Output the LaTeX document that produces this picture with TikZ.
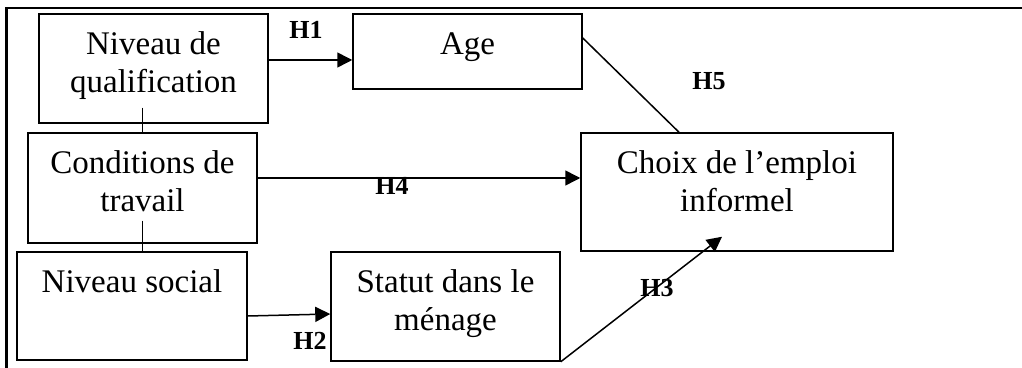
\documentclass[tikz,border=0pt]{standalone}
\usepackage{fontspec}
\setmainfont{Liberation Serif}
\usepackage{tikz}
\usetikzlibrary{positioning,arrows.meta,calc}
\tikzstyle{box} = [draw, inner sep=0pt, line width=0.75pt, font=\fontsize{16.5}{19}\selectfont]
\tikzstyle{link} = [line width=0.75pt, ->, >={Triangle[length=7.5pt, width=7.5pt]}]
\tikzstyle{hyp} = [inner sep=0pt, font=\fontsize{13}{15}\selectfont\bfseries]
\newcommand{\cellbox}[3]{\parbox[c][#2][t]{#1}{\centering\rule{0pt}{20.5pt}#3}}

\begin{document}
\begin{tikzpicture}[x=0.5pt, y=-0.5pt]
            \useasboundingbox (0,0) rectangle (1022,368);
            % frame
            \draw[line width=1.3pt] (5,8) -- (1022,8);
            \draw[line width=1.3pt] (6.5,8) -- (6.5,368);

            \node[box] (qual) at (153.5,68.5) {\cellbox{114.5pt}{54.5pt}{Niveau de\\qualification}};
            \node[box] (cond) at (142.5,188) {\cellbox{114.5pt}{55pt}{Conditions de\\travail}};
            \node[box] (social) at (132,306) {\cellbox{115pt}{54pt}{Niveau social}};
            \node[box] (statut) at (445.5,306.5) {\cellbox{114.5pt}{54.5pt}{Statut dans le\\ménage}};
            \node[box] (age) at (467.5,51.5) {\cellbox{114.5pt}{37.5pt}{Age}};
            \node[box] (choix) at (737,192) {\cellbox{156pt}{59pt}{Choix de l’emploi\\informel}};

            \draw[line width=0.75pt] ([yshift=8pt]qual.south -| cond.north) -- (cond.north);
            \draw[line width=0.75pt] ([yshift=11.5pt]cond.south) -- (cond.south |- social.north);

            \draw[link] ([yshift=4.25pt]qual.east) -- ([yshift=-4.25pt]age.west);
            \draw[link] ([yshift=5pt]cond.east) -- ([yshift=7pt]choix.west);
            \draw[link] ([yshift=-5pt]social.east) -- ([yshift=-3.75pt]statut.west);
            \draw[link] (statut.south east) -- ([xshift=-7.5pt,yshift=7.5pt]choix.south);
            \draw[line width=0.75pt] ([yshift=6.75pt]age.east) -- ([xshift=-29pt]choix.north);

            \node[hyp] (h1) at (306,30) {H1};
            \node[hyp] (h2) at (310,341) {H2};
            \node[hyp] (h3) at (657,288) {H3};
            \node[hyp] (h4) at (392,186) {H4};
            \node[hyp] (h5) at (709,81) {H5};
            \end{tikzpicture}
\end{document}
